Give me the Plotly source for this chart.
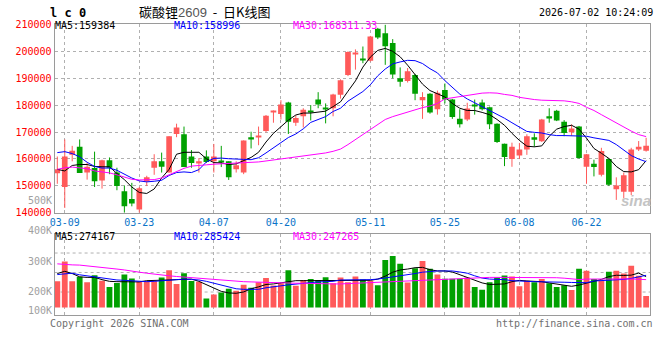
import plotly.graph_objects as go

# ---------------- data ----------------
dates = ["03-06",
         "03-09", "03-10", "03-11", "03-12", "03-13",
         "03-16", "03-17", "03-18", "03-19", "03-20",
         "03-23", "03-24", "03-25", "03-26", "03-27",
         "03-30", "03-31", "04-01", "04-02", "04-03",
         "04-07", "04-08", "04-09", "04-10",
         "04-13", "04-14", "04-15", "04-16", "04-17",
         "04-20", "04-21", "04-22", "04-23", "04-24",
         "04-27", "04-28", "04-29", "04-30",
         "05-06", "05-07", "05-08",
         "05-11", "05-12", "05-13", "05-14", "05-15",
         "05-18", "05-19", "05-20", "05-21", "05-22",
         "05-25", "05-26", "05-27", "05-28", "05-29",
         "06-01", "06-02", "06-03", "06-04", "06-05",
         "06-08", "06-09", "06-10", "06-11", "06-12",
         "06-15", "06-16", "06-17", "06-18",
         "06-22", "06-23", "06-24", "06-25", "06-26",
         "06-29", "06-30", "07-01", "07-02"]

opens = [154710, 149570, 161520, 164510, 154950, 156620, 151960, 159490, 154950, 148020,
         145150, 141210, 151600, 156740, 159130, 154950, 169290, 169170, 160920, 158540,
         160920, 159130, 159370, 159130, 156140, 154950, 168090, 168330, 170360, 177300,
         176700, 181000, 173470, 175860, 177890, 182080, 179090, 178850, 183870, 191160,
         199040, 197130, 196530, 208360, 206690, 203110, 189960, 189010, 191160, 181840,
         184230, 178490, 185660, 182080, 174900, 174660, 180280, 181000, 179210, 173110,
         165700, 159970, 161280, 163550, 168090, 166540, 175860, 177890, 173830, 169890,
         172040, 157100, 158180, 154110, 159970, 148730, 147780, 147780, 163910, 163080]

highs = [160920, 167260, 164870, 167260, 158540, 162720, 159730, 160560, 156740, 150170,
         151130, 149570, 153750, 161760, 162360, 168450, 173110, 172040, 163310, 160330,
         163190, 165580, 164870, 159130, 159130, 166900, 170120, 172040, 176340, 178010,
         181840, 181240, 176220, 178850, 180040, 184820, 180640, 184230, 189600, 200000,
         200720, 201790, 205740, 208720, 209920, 204540, 194020, 193790, 191630, 184820,
         184470, 185420, 188050, 182310, 178490, 180880, 182080, 182080, 179450, 173230,
         165700, 166060, 165940, 169170, 169530, 174900, 178850, 178250, 174430, 172870,
         172280, 161880, 159730, 164150, 160090, 153170, 154950, 164150, 166660, 167860]

lows = [150770, 141800, 159130, 154830, 152320, 149570, 148980, 154350, 148380, 140010,
        142400, 140010, 149930, 154110, 154950, 154950, 168090, 156980, 156740, 154950,
        158540, 154950, 156980, 152200, 154950, 154350, 163910, 165110, 169890, 173470,
        174660, 169290, 172280, 171680, 174310, 178850, 173230, 175860, 182430, 190800,
        193190, 195580, 196180, 204540, 194980, 189960, 186850, 188410, 181840, 174900,
        176820, 176460, 180640, 174900, 171680, 174070, 176460, 178010, 171080, 165940,
        157340, 157100, 159970, 161520, 164510, 166300, 173470, 174070, 168450, 168690,
        160090, 150770, 153520, 153520, 149930, 144790, 145390, 146590, 162950, 162720]

closes = [156140, 160920, 163080, 154830, 157100, 151720, 159490, 156740, 149930, 142400,
          143480, 149090, 153170, 159130, 157100, 168450, 171670, 156980, 158540, 159130,
          158890, 160920, 158890, 153170, 157690, 166900, 167500, 168690, 176100, 177890,
          180280, 173830, 175260, 178250, 177650, 180280, 178610, 183990, 189240, 199760,
          199400, 196650, 205500, 205140, 201910, 191400, 188650, 192590, 184230, 183030,
          177300, 184590, 182080, 175620, 172870, 178730, 179800, 178490, 172870, 166300,
          160690, 164510, 163550, 168450, 167140, 174660, 175020, 174310, 169650, 171320,
          160330, 161760, 156980, 162950, 150410, 150170, 153990, 163550, 164510, 164870]

ma5 = [156140, 155550, 157580, 157940, 157940, 157220, 157100, 157100, 154590, 152320,
       149570, 147540, 147180, 148850, 152920, 156140, 161760, 162480, 162480, 162480,
       160090, 158650, 158530, 157940, 158180, 159370, 160570, 162480, 166300, 169530,
       171920, 174430, 176340, 177060, 177060, 177410, 177770, 179450, 181240, 185180,
       189010, 194140, 197850, 200360, 201080, 200000, 197970, 194860, 191400, 187810,
       185420, 184230, 183030, 180640, 178850, 178010, 178010, 177300, 176460, 174670,
       172520, 169530, 166900, 164750, 164510, 164870, 168450, 171080, 172040, 172520,
       171080, 167740, 163910, 162120, 160210, 157220, 155310, 155190, 156020, 159384]

ma10 = [162360, 162720, 162000, 160800, 158770, 157220, 156620, 156620, 155790, 154230,
        152920, 151840, 151480, 151720, 152080, 153870, 154950, 155190, 154950, 156020,
        158890, 160210, 160330, 160090, 160090, 159850, 159730, 160450, 162240, 164150,
        166060, 167970, 169290, 171200, 173590, 174790, 175740, 177650, 178850, 181480,
        183150, 185060, 187570, 190920, 193430, 195340, 196060, 196650, 196530, 195460,
        193550, 191990, 189130, 186740, 184110, 182310, 180880, 179690, 178130, 176820,
        175140, 173470, 171800, 170240, 169890, 169650, 169050, 168690, 168690, 168690,
        168690, 168450, 167850, 167260, 166900, 165350, 163190, 161280, 159970, 158996]

ma30 = [156140, 156740, 156980, 156740, 156380, 155550, 155190, 154830, 154110, 153160,
        152440, 152200, 152200, 152320, 152920, 154110, 155310, 156500, 157340, 157700,
        157820, 158060, 158180, 158290, 158290, 158410, 158650, 158890, 159250, 159610,
        159970, 160330, 160680, 160920, 161280, 161760, 162240, 162840, 163670, 165350,
        167260, 168930, 170840, 172870, 174670, 175740, 176580, 177530, 178370, 179090,
        179690, 180640, 182310, 182790, 183270, 183630, 184110, 184470, 184590, 184470,
        183990, 183630, 182910, 182430, 182080, 181840, 181840, 181840, 181600, 181240,
        180640, 179210, 178010, 176460, 174900, 173230, 171680, 170360, 169050, 168311.33]

volumes = [232000, 407000, 232000, 272000, 224000, 287000, 238000, 181000, 218000, 292000,
           258000, 229000, 232000, 232000, 267000, 330000, 209000, 304000, 235000, 229000,
           80000, 115000, 132000, 166000, 149000, 201000, 175000, 224000, 261000, 195000,
           215000, 330000, 192000, 244000, 252000, 244000, 269000, 215000, 267000, 224000,
           275000, 249000, 238000, 198000, 421000, 456000, 387000, 221000, 347000, 413000,
           344000, 292000, 255000, 255000, 255000, 267000, 181000, 158000, 224000, 267000,
           284000, 275000, 189000, 238000, 224000, 252000, 215000, 181000, 198000, 155000,
           344000, 327000, 252000, 238000, 318000, 327000, 301000, 370000, 281000, 103000]

vma5 = [301000, 321000, 301000, 272000, 267000, 267000, 247000, 232000, 229000, 229000,
        229000, 227000, 238000, 238000, 238000, 244000, 247000, 252000, 252000, 232000,
        204000, 172000, 143000, 129000, 126000, 138000, 166000, 183000, 204000, 209000,
        218000, 232000, 238000, 238000, 238000, 241000, 244000, 238000, 238000, 241000,
        244000, 244000, 241000, 252000, 278000, 313000, 333000, 341000, 353000, 356000,
        335000, 324000, 324000, 315000, 292000, 267000, 244000, 218000, 204000, 204000,
        209000, 229000, 241000, 235000, 232000, 229000, 218000, 209000, 197000, 188000,
        199000, 217000, 234000, 249000, 274000, 286000, 284000, 287000, 305000, 274167]

vma10 = [292000, 301000, 304000, 290000, 281000, 275000, 264000, 252000, 244000, 241000,
         235000, 229000, 229000, 232000, 238000, 244000, 247000, 252000, 249000, 244000,
         232000, 215000, 195000, 178000, 166000, 161000, 161000, 161000, 175000, 186000,
         192000, 201000, 209000, 215000, 221000, 227000, 229000, 232000, 244000, 244000,
         247000, 247000, 247000, 252000, 261000, 272000, 281000, 290000, 301000, 313000,
         321000, 324000, 324000, 324000, 315000, 304000, 281000, 261000, 252000, 252000,
         247000, 238000, 238000, 232000, 229000, 229000, 229000, 229000, 224000, 222000,
         218000, 220000, 235000, 238000, 241000, 244000, 249000, 258000, 272000, 285424]

vma30 = [387000, 381000, 378000, 376000, 370000, 364000, 356000, 347000, 341000, 333000,
         321000, 313000, 304000, 295000, 290000, 281000, 275000, 270000, 264000, 258000,
         249000, 244000, 241000, 235000, 232000, 229000, 227000, 224000, 221000, 218000,
         215000, 215000, 215000, 215000, 212000, 212000, 209000, 209000, 209000, 212000,
         215000, 215000, 218000, 224000, 227000, 232000, 235000, 238000, 241000, 244000,
         247000, 249000, 252000, 255000, 258000, 261000, 261000, 264000, 267000, 267000,
         267000, 267000, 267000, 267000, 267000, 267000, 267000, 264000, 260000, 251000,
         248000, 252000, 251000, 252000, 253000, 253000, 253000, 253000, 251000, 247265]

tick_dates = ["03-09", "03-23", "04-07", "04-20", "05-11", "05-25", "06-08", "06-22"]
price_ticks = [140000, 150000, 160000, 170000, 180000, 190000, 200000, 210000]
vol_axis_labels = ["500K", "400K", "300K", "200K", "100K"]

title_name = "碳酸锂"
contract = "2609"
chart_kind = "日K线图"
symbol = "l c 0"
timestamp = "2026-07-02 10:24:09"
price_legend = ["MA5:159384", "MA10:158996", "MA30:168311.33"]
vol_legend = ["MA5:274167", "MA10:285424", "MA30:247265"]

# ---------------- style ----------------
W, H = 660, 360
RED = "#ff5a5a"
GREEN = "#00a000"
MA_COLORS = ["#000000", "#0000ff", "#ff00ff"]
MONO = "DejaVu Sans Mono"
CJK = "Noto Sans CJK SC"
FRAME = "#9a9a9a"
GRID = "#b0b0b0"


def px_x(p):
    return p / W


def px_y(p):
    return 1 - p / H


MAIN_DOM = [px_y(213.3), px_y(19)]
VOL_DOM = [px_y(318.5), px_y(234.7)]
X_DOM = [px_x(50), px_x(650)]
X_RANGE = [-0.36, len(dates) - 1 + 0.53]

colors = [RED if c >= o else GREEN for o, c in zip(opens, closes)]
body_base = [min(o, c) for o, c in zip(opens, closes)]
body_h = [max(abs(c - o), 380) for o, c in zip(opens, closes)]

fig = go.Figure()

# bodies (first trace fixes the category order)
fig.add_trace(go.Bar(x=dates, y=body_h, base=body_base, width=0.76,
                     marker=dict(color=colors, line=dict(width=0)),
                     xaxis="x", yaxis="y", hoverinfo="skip"))

# wicks
for col in (RED, GREEN):
    wx, wy = [], []
    for d, hi, lo, c in zip(dates, highs, lows, colors):
        if c == col:
            wx += [d, d, None]
            wy += [lo, hi, None]
    fig.add_trace(go.Scatter(x=wx, y=wy, mode="lines", line=dict(color=col, width=1),
                             hoverinfo="skip", xaxis="x", yaxis="y", connectgaps=False))

# price MAs
for arr, col in zip([ma5, ma10, ma30], MA_COLORS):
    fig.add_trace(go.Scatter(x=dates, y=arr, mode="lines", line=dict(color=col, width=1),
                             xaxis="x", yaxis="y", hoverinfo="skip"))

# volume bars
fig.add_trace(go.Bar(x=dates, y=volumes, width=0.78,
                     marker=dict(color=colors, line=dict(width=0)),
                     xaxis="x2", yaxis="y2", hoverinfo="skip"))
for arr, col in zip([vma5, vma10, vma30], MA_COLORS):
    fig.add_trace(go.Scatter(x=dates, y=arr, mode="lines", line=dict(color=col, width=1),
                             xaxis="x2", yaxis="y2", hoverinfo="skip"))

axis_common = dict(showline=True, mirror=True, linecolor=FRAME, linewidth=1,
                   zeroline=False, ticks="", fixedrange=True)

fig.update_layout(
    width=W, height=H, margin=dict(l=0, r=0, t=0, b=0),
    paper_bgcolor="white", plot_bgcolor="white", showlegend=False,
    barmode="overlay",
    xaxis=dict(domain=X_DOM, anchor="y", type="category", range=X_RANGE,
               categoryorder="array", categoryarray=dates,
               tickmode="array", tickvals=tick_dates, ticktext=tick_dates, tickangle=0,
               tickfont=dict(family=MONO, size=10, color="#0a74c8"),
               showgrid=True, gridcolor=GRID, griddash="dot", gridwidth=1,
               **axis_common),
    yaxis=dict(domain=MAIN_DOM, anchor="x", range=[price_ticks[0], price_ticks[-1]],
               tickmode="array", tickvals=price_ticks, ticktext=[str(t) for t in price_ticks],
               tickfont=dict(family=MONO, size=10, color="#ff0000"),
               showgrid=True, gridcolor=GRID, griddash="dot", gridwidth=1,
               **axis_common),
    xaxis2=dict(domain=X_DOM, anchor="y2", type="category", range=X_RANGE, matches="x",
                categoryorder="array", categoryarray=dates,
                tickmode="array", tickvals=tick_dates, showticklabels=False,
                showgrid=True, gridcolor=GRID, griddash="dot", gridwidth=1,
                **axis_common),
    yaxis2=dict(domain=VOL_DOM, anchor="x2", range=[-64500, 656000],
                showticklabels=False, showgrid=False, **axis_common),
)

# volume panel dotted gridlines
for frac in (0.28, 0.52, 0.76):
    fig.add_shape(type="line", xref="x2 domain", yref="y2 domain", x0=0, x1=1, y0=frac, y1=frac,
                  line=dict(color=GRID, width=1, dash="dot"), layer="below")

ann = []


def A(text, x, y, xa="left", color="#000", size=10, family=MONO, **kw):
    ann.append(dict(text=text, x=px_x(x), y=px_y(y), xref="paper", yref="paper",
                    xanchor=xa, yanchor="middle", showarrow=False, borderpad=0,
                    font=dict(family=family, size=size, color=color), **kw))


A("<b>" + symbol + "</b>", 44, 7, size=12, color="#000")
A(title_name + "<span style='color:#555;font-family:Liberation Sans'>" + contract +
  "</span>  -  " + chart_kind, 134, 6, size=13, family=CJK, color="#000")
A(timestamp, 654, 7, xa="right", size=10, color="#000")

for txt, x, col in zip(price_legend, [49, 169, 289], MA_COLORS):
    A(txt, x, 20.5, color=col)
for txt, x, col in zip(vol_legend, [49, 169, 289], MA_COLORS):
    A(txt, x, 238, color=col)

for txt, y in zip(vol_axis_labels, [201, 231.5, 264, 295, 314]):
    A(txt, 48, y, xa="right", color="#a0a0a0")

A("Copyright 2026 SINA.COM", 44, 327.5, color="#707070")
A("http://finance.sina.com.cn", 654, 327.5, xa="right", color="#707070")
A("<b><i>sina</i></b>", 636, 201, xa="center", size=15, family="Liberation Sans", color="#c4c4c4")

fig.update_layout(annotations=ann)

fig.write_html("out.html")
